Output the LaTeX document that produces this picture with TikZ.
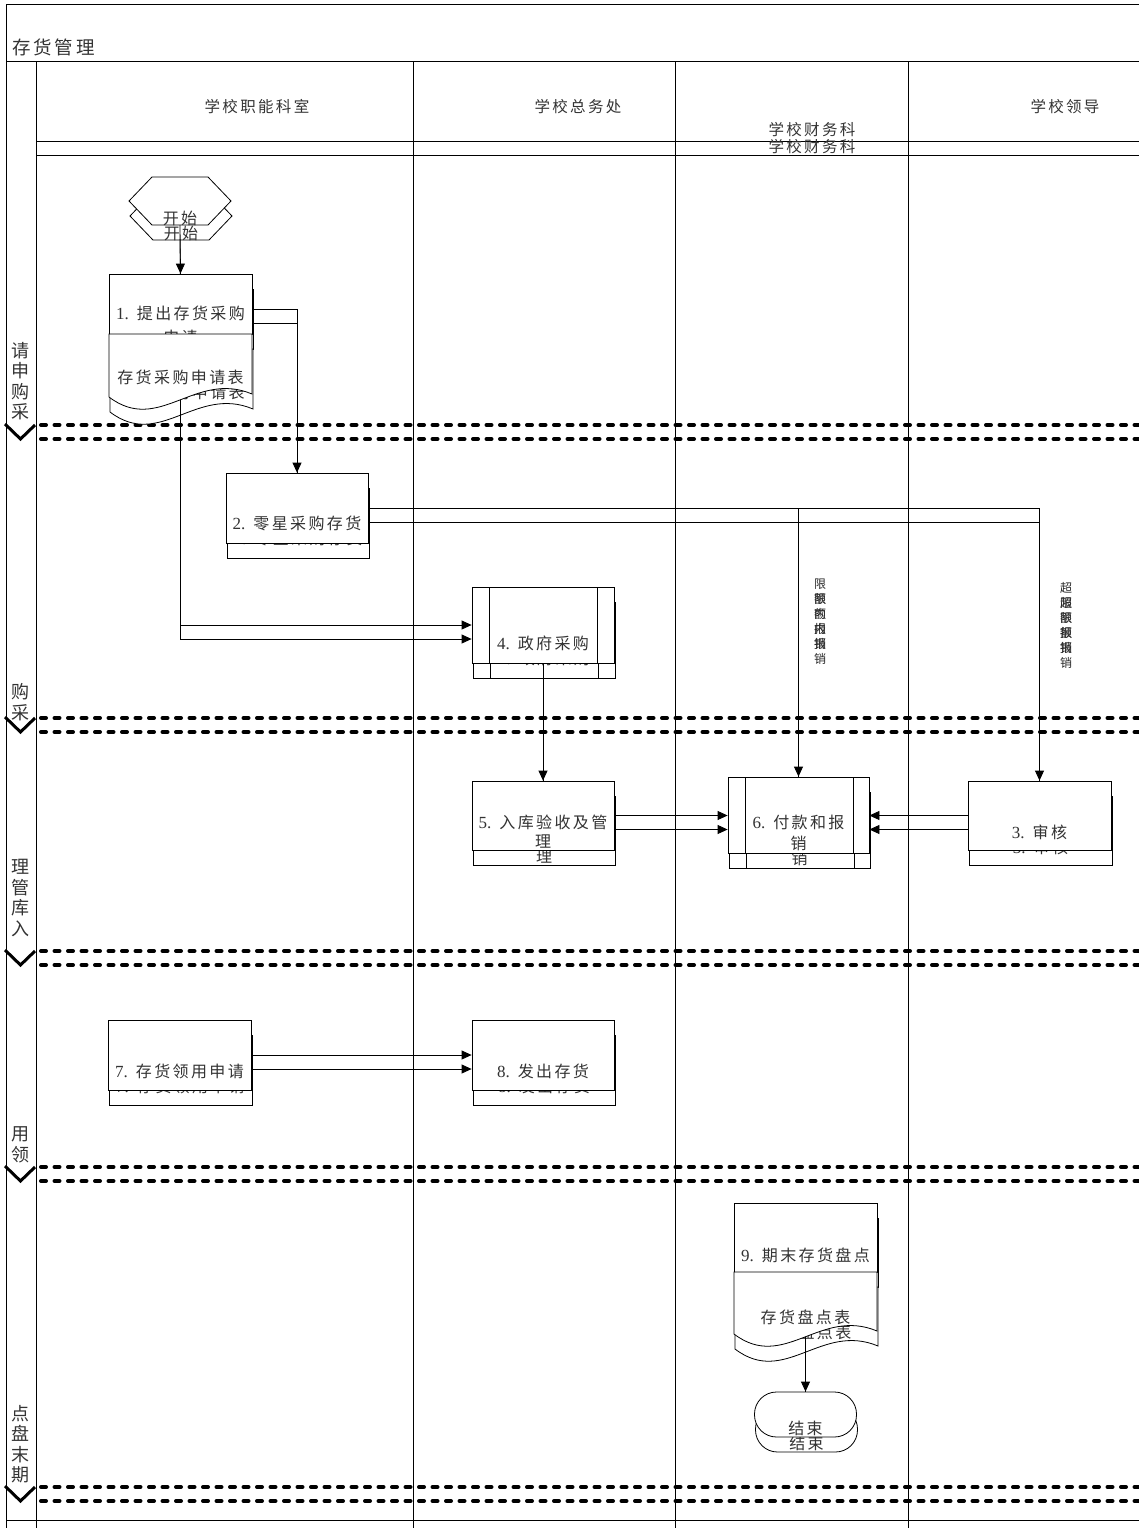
\documentclass[tikz,border=0pt]{standalone}
\usepackage{fontspec}
\setmainfont{Liberation Serif}
\newfontfamily\cjk[LetterSpace=15]{Noto Sans CJK SC}
\usetikzlibrary{arrows.meta}
\pgfdeclarelayer{bg}\pgfdeclarelayer{cn}\pgfsetlayers{bg,cn,main}
\newcommand\latd[1]{{\rmfamily\fontsize{17}{19}\selectfont #1} }
\tikzset{
  ln/.style={line width=0.8pt},
  frm/.style={line width=1pt},
  shp/.style={draw, fill=white, line width=0.8pt, inner sep=0pt},
  anc/.style={inner sep=0pt},
  txt/.style={font=\cjk\fontsize{16}{19}\selectfont, text=black!80, inner sep=0pt},
  hdr/.style={font=\cjk\fontsize{15.5}{18}\selectfont, text=black!80, inner sep=0pt},
  ttl/.style={font=\cjk\fontsize{18.5}{20}\selectfont, text=black!80, inner sep=0pt},
  phase/.style={font=\cjk\fontsize{18}{20.5}\selectfont, text=black!80, inner sep=0pt, align=center},
  lbl/.style={font=\cjk\fontsize{12}{15}\selectfont, text=black!85, inner sep=0pt, align=center},
  conn/.style={draw, line width=0.8pt, -{Triangle[length=10pt,width=9pt]}},
  sepline/.style={line width=4pt, dash pattern=on 5pt off 8.5pt, line cap=round},
  chev/.style={line width=3pt},
}
\newcommand\twoconn[1]{\draw[conn] #1; \draw[conn, transform canvas={yshift=-14pt}] #1;}
\newcommand\allshapes[1]{%
  % start
  \filldraw[shp] (129,201) -- (152,177) -- (208,177) -- (231,201) -- (208,225) -- (152,225) -- cycle;
  \node[anc, minimum width=102, minimum height=48] (st#1) at (180,201) {};
  \node[txt] (tst#1) at (180,218) {开始};
  % 1
  \node[shp, minimum width=143, minimum height=60] (b1#1) at (180.5,304) {};
  \node[txt] (tb1#1) at (180.5,313) {\latd{1.}提出存货采购};
  \node[txt] (tb1b#1) at (180.5,337) {申请};
  \filldraw[shp] (109,334) -- (109,397) .. controls +(50,38) and +(-57,-24) .. (252,394) -- (252,334) -- cycle;
  \node[anc, minimum width=143, minimum height=63] (d1#1) at (180.5,365.5) {};
  \node[txt] (td1#1) at (180.5,377) {存货采购申请表};
  % 2
  \node[shp, minimum width=142, minimum height=70] (b2#1) at (297,508) {};
  \node[txt] (tb2#1) at (297,523) {\latd{2.}零星采购存货};
  % 4
  \node[shp, minimum width=142, minimum height=76] (b4#1) at (543,625) {};
  \draw[ln] (489,587) -- (489,663) (597,587) -- (597,663);
  \node[txt] (tb4#1) at (543,643) {\latd{4.}政府采购};
  % 5
  \node[shp, minimum width=142, minimum height=69] (b5#1) at (543,815.5) {};
  \node[txt] (tb5#1) at (543,822) {\latd{5.}入库验收及管};
  \node[txt] (tb5b#1) at (543,842) {理};
  % 6
  \node[shp, minimum width=141, minimum height=76] (b6#1) at (798.5,815) {};
  \draw[ln] (745,777) -- (745,853) (853,777) -- (853,853);
  \node[txt] (tb6#1) at (798.5,822) {\latd{6.}付款和报};
  \node[txt] (tb6b#1) at (798.5,843) {销};
  % 3
  \node[shp, minimum width=143, minimum height=69] (b3#1) at (1039.5,815.5) {};
  \node[txt] (tb3#1) at (1039.5,832) {\latd{3.}审核};
  % 7
  \node[shp, minimum width=143, minimum height=70] (b7#1) at (179.5,1055) {};
  \node[txt] (tb7#1) at (179.5,1071) {\latd{7.}存货领用申请};
  % 8
  \node[shp, minimum width=142, minimum height=70] (b8#1) at (543,1055) {};
  \node[txt] (tb8#1) at (543,1071) {\latd{8.}发出存货};
  % 9
  \node[shp, minimum width=143, minimum height=69] (b9#1) at (805.5,1237.5) {};
  \node[txt] (tb9#1) at (805.5,1255) {\latd{9.}期末存货盘点};
  \filldraw[shp] (734,1272) -- (734,1334) .. controls +(50,38) and +(-57,-24) .. (877,1331) -- (877,1272) -- cycle;
  \node[anc, minimum width=143, minimum height=62] (d9#1) at (805.5,1303) {};
  \node[txt] (td9#1) at (805.5,1317) {存货盘点表};
  % end
  \node[shp, rounded corners=22pt, minimum width=102, minimum height=45] (en#1) at (805.5,1414.5) {};
  \node[txt] (ten#1) at (805.5,1428) {结束};
}
\begin{document}
\begin{tikzpicture}[x=1pt,y=-1pt]
\useasboundingbox (0,0) rectangle (1139,1528);
\begin{pgfonlayer}{bg}
  % frame and lanes
  \draw[frm] (6,1528) -- (6,4.5) -- (1139,4.5);
  \draw[frm] (6,62) -- (1139,62);
  \draw[frm] (36,62) -- (36,1528);
  \foreach \x in {413,675,908} \draw[frm] (\x,62) -- (\x,1528);
  \draw[frm] (36,141) -- (1139,141);
  \draw[frm] (36,155) -- (1139,155);
  \draw[frm] (6,1520) -- (1139,1520);
  % title and headers
  \node[ttl, anchor=west] (title) at (12,47) {存货管理};
  \node[hdr] (h1) at (257,107) {学校职能科室};
  \node[hdr] (h2) at (578,107) {学校总务处};
  \node[hdr] (h3) at (812,130) {学校财务科};
  \node[hdr] (h3s) at (812,147) {学校财务科};
  \node[hdr] (h4) at (1065,107) {学校领导};
  % phases
  \node[phase] (p1) at (20,381) {请\\申\\购\\采};
  \node[phase] (p2) at (20,702) {购\\采};
  \node[phase] (p3) at (20,898) {理\\管\\库\\入};
  \node[phase] (p4) at (20,1145) {用\\领};
  \node[phase] (p5) at (20,1444) {点\\盘\\末\\期};
  \foreach \y in {425,718,951,1167,1487} {
    \draw[sepline] (41,\y) -- (1139,\y);
    \draw[sepline] (41,\y+14) -- (1139,\y+14);
    \draw[chev] (5,\y-1) -- (20.5,\y+14) -- (35,\y);
  }
  % shadow copies of shapes
  \begin{scope}[shift={(1,15)}]
    \allshapes{s}
  \end{scope}
\end{pgfonlayer}
% front shapes
\allshapes{}
\begin{pgfonlayer}{cn}
  \twoconn{(st.south) -- (b1.north)}
  \twoconn{([yshift=-5pt]b1.east) -| (b2.north)}
  \twoconn{(d1.south) |- (b4.west)}
  \twoconn{(b2.east) -| (b6.north)}
  \twoconn{(b2.east) -| (b3.north)}
  \twoconn{(b4.south) -- (b5.north)}
  \twoconn{(b5.east) -- (b5.east -| b6.west)}
  \twoconn{(b3.west) -- (b3.west -| b6.east)}
  \twoconn{(b7.east) -- (b7.east -| b8.west)}
  \twoconn{(d9.south) -- (en.north)}
  \node[lbl] (l1) at (820,614) {限\\额\\内\\报\\销};
  \node[lbl] (l1s) at (820,629) {限\\额\\内\\报\\销};
  \node[lbl] (l2) at (1066,618) {超\\限\\额\\报\\销};
  \node[lbl] (l2s) at (1066,633) {超\\限\\额\\报\\销};
\end{pgfonlayer}
\end{tikzpicture}
\end{document}
